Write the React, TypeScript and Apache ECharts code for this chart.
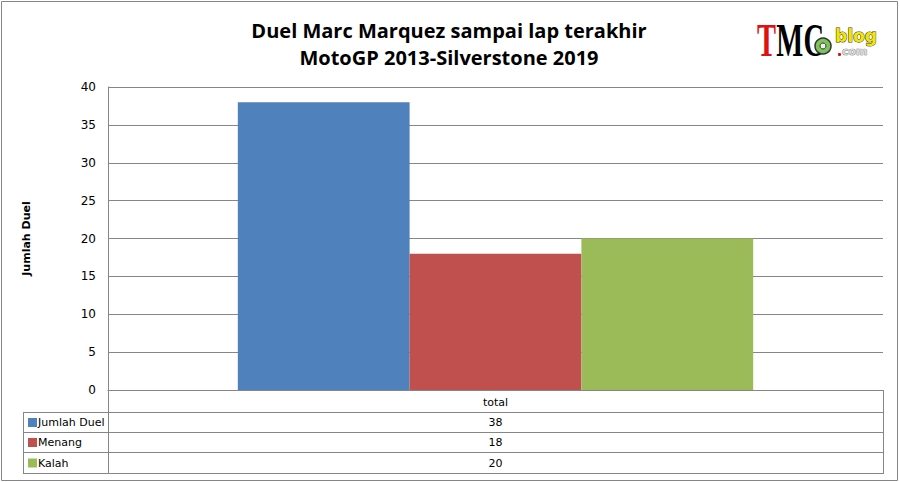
import React, { useEffect, useRef } from "react";
import * as echarts from "echarts";

const categories = ["total"];
const seriesNames = ["Jumlah Duel", "Menang", "Kalah"];
const seriesValues = [38, 18, 20];
const seriesColors = ["#4F81BD", "#C0504D", "#9BBB59"];
const titleLines = ["Duel Marc Marquez sampai lap terakhir", "MotoGP 2013-Silverstone 2019"];
const yAxisName = "Jumlah Duel";

const W = 900;
const H = 482;
const GRID_L = 108;
const GRID_R = 883;
const GRID_T = 87;
const GRID_B = 390;
const ROW_H = [22, 20, 20, 21];
const TABLE_L = 23;
const LINE_C = "#868686";
const TXT_FONT = "Tahoma, 'DejaVu Sans', sans-serif";

export default function App() {
  const ref = useRef<HTMLDivElement>(null);
  useEffect(() => {
    document.body.style.margin = "0";
    const chart = echarts.init(ref.current!, null, { renderer: "svg" });
    const centerX = (GRID_L + GRID_R) / 2;
    const rowTops: number[] = [];
    let y = GRID_B;
    for (const h of ROW_H) {
      rowTops.push(y);
      y += h;
    }
    const tableBottom = y;
    const graphics: any[] = [];
    graphics.push({
      type: "rect",
      shape: { x: 1.5, y: 1.5, width: W - 4, height: H - 3 },
      style: { fill: "none", stroke: LINE_C, lineWidth: 1 },
      silent: true,
    });
    graphics.push({
      type: "line",
      shape: { x1: GRID_L + 0.5, y1: GRID_B, x2: GRID_L + 0.5, y2: tableBottom + 0.5 },
      style: { stroke: LINE_C, lineWidth: 1 },
    });
    graphics.push({
      type: "line",
      shape: { x1: GRID_R + 0.5, y1: GRID_B, x2: GRID_R + 0.5, y2: tableBottom + 0.5 },
      style: { stroke: LINE_C, lineWidth: 1 },
    });
    graphics.push({
      type: "line",
      shape: { x1: TABLE_L + 0.5, y1: rowTops[1] + 0.5, x2: TABLE_L + 0.5, y2: tableBottom + 0.5 },
      style: { stroke: LINE_C, lineWidth: 1 },
    });
    for (let i = 1; i <= ROW_H.length; i++) {
      const yy = i < ROW_H.length ? rowTops[i] : tableBottom;
      graphics.push({
        type: "line",
        shape: { x1: TABLE_L, y1: yy + 0.5, x2: GRID_R + 1, y2: yy + 0.5 },
        style: { stroke: LINE_C, lineWidth: 1 },
      });
    }
    graphics.push({
      type: "text",
      x: centerX,
      y: rowTops[0] + ROW_H[0] / 2 + 1,
      style: {
        text: categories[0],
        font: `11px ${TXT_FONT}`,
        fill: "#000",
        align: "center",
        verticalAlign: "middle",
      },
    });
    seriesNames.forEach((name, i) => {
      const cy = rowTops[i + 1] + ROW_H[i + 1] / 2 + 0.5;
      graphics.push({
        type: "rect",
        shape: { x: 28, y: cy - 4.5, width: 9, height: 9 },
        style: { fill: seriesColors[i] },
      });
      graphics.push({
        type: "text",
        x: 38,
        y: cy,
        style: { text: name, font: `11px ${TXT_FONT}`, fill: "#000", verticalAlign: "middle" },
      });
      graphics.push({
        type: "text",
        x: centerX,
        y: cy,
        style: {
          text: String(seriesValues[i]),
          font: `11px ${TXT_FONT}`,
          fill: "#000",
          align: "center",
          verticalAlign: "middle",
        },
      });
    });
    titleLines.forEach((t, i) => {
      graphics.push({
        type: "text",
        x: 449,
        y: 30 + i * 27,
        style: {
          text: t,
          font: `bold 20px 'Open Sans', sans-serif`,
          fill: "#000",
          align: "center",
          verticalAlign: "middle",
        },
      });
    });
    // logo
    const serif = "bold 46px 'Liberation Serif', serif";
    graphics.push({
      type: "group",
      x: 757,
      y: 17,
      scaleX: 0.62,
      children: [
        { type: "text", x: 0, y: 0, style: { text: "T", font: serif, fill: "#E01010", lineHeight: 46 } },
        { type: "text", x: 31, y: 0, style: { text: "M", font: serif, fill: "#000", lineHeight: 46 } },
        { type: "text", x: 75, y: 0, style: { text: "C", font: serif, fill: "#000", lineHeight: 46 } },
      ],
    });
    graphics.push({
      type: "circle",
      shape: { cx: 823, cy: 46, r: 8 },
      style: { fill: "#7CC35A", stroke: "#333", lineWidth: 1.5 },
    });
    graphics.push({
      type: "circle",
      shape: { cx: 823, cy: 46, r: 3 },
      style: { fill: "#eee", stroke: "#333", lineWidth: 1 },
    });
    graphics.push({
      type: "text",
      x: 835,
      y: 27,
      style: {
        text: "blog",
        font: "bold 17px 'DejaVu Sans', sans-serif",
        fill: "#F2E600",
        stroke: "#333",
        lineWidth: 1,
        lineHeight: 17,
      },
    });
    graphics.push({
      type: "circle",
      shape: { cx: 839.5, cy: 54.5, r: 1.6 },
      style: { fill: "#E01010" },
    });
    graphics.push({
      type: "text",
      x: 842,
      y: 46,
      style: {
        text: "com",
        font: "bold 11px 'DejaVu Sans', sans-serif",
        fill: "#d8d8d8",
        stroke: "#555",
        lineWidth: 0.6,
        lineHeight: 11,
      },
    });

    chart.setOption({
      animation: false,
      backgroundColor: "#fff",
      grid: { left: GRID_L, right: W - GRID_R, top: GRID_T, bottom: H - GRID_B, containLabel: false },
      xAxis: {
        type: "category",
        data: categories,
        axisLine: { show: true, lineStyle: { color: LINE_C } },
        axisTick: { show: false },
        axisLabel: { show: false },
      },
      yAxis: {
        type: "value",
        min: 0,
        max: 40,
        interval: 5,
        name: yAxisName,
        nameLocation: "middle",
        nameRotate: 90,
        nameGap: 76,
        nameTextStyle: { fontWeight: "bold", fontSize: 11, color: "#000", fontFamily: TXT_FONT },
        axisLine: { show: true, lineStyle: { color: LINE_C } },
        axisTick: { show: false },
        axisLabel: { color: "#000", fontSize: 12, margin: 12, fontFamily: TXT_FONT },
        splitLine: { show: true, lineStyle: { color: LINE_C, width: 1 } },
      },
      series: seriesNames.map((name, i) => ({
        type: "bar",
        name,
        data: [seriesValues[i]],
        itemStyle: { color: seriesColors[i] },
        barGap: "0%",
        barCategoryGap: "33.5%",
      })),
      graphic: graphics,
    });
    return () => chart.dispose();
  }, []);
  return <div ref={ref} style={{ width: W, height: H }} />;
}
